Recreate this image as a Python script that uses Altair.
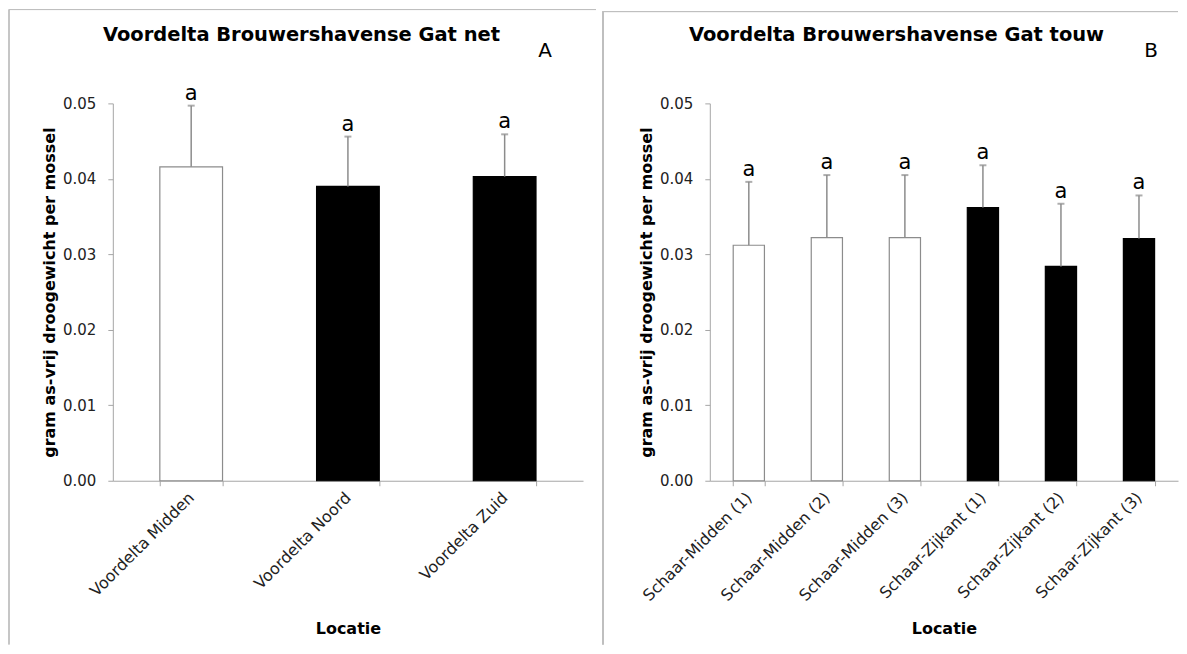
import altair as alt
import pandas as pd

# ---- data ----
cats_a = ["Voordelta Midden", "Voordelta Noord", "Voordelta Zuid"]
mean_a = [0.0416, 0.0390, 0.0403]
upper_a = [0.0497, 0.0456, 0.0459]
group_a = ["open", "filled", "filled"]
letters_a = ["a", "a", "a"]

cats_b = ["Schaar-Midden (1)", "Schaar-Midden (2)", "Schaar-Midden (3)",
          "Schaar-Zijkant (1)", "Schaar-Zijkant (2)", "Schaar-Zijkant (3)"]
mean_b = [0.0312, 0.0322, 0.0322, 0.0362, 0.0284, 0.0321]
upper_b = [0.0396, 0.0405, 0.0405, 0.0418, 0.0367, 0.0378]
group_b = ["open", "open", "open", "filled", "filled", "filled"]
letters_b = ["a", "a", "a", "a", "a", "a"]

title_a = "Voordelta Brouwershavense Gat net"
title_b = "Voordelta Brouwershavense Gat touw"
panel_a = "A"
panel_b = "B"
y_title = "gram as-vrij droogewicht per mossel"
x_title = "Locatie"
y_ticks = [0.0, 0.01, 0.02, 0.03, 0.04, 0.05]

FONT = "DejaVu Sans"
AXIS_GRAY = "#a6a6a6"
ERR_GRAY = "#8c8c8c"


def panel(cats, mean, upper, group, letters, title, letter, width, height,
          frame_left, frame_top, frame_right, title_x, letter_x, xtitle_pad):
    df = pd.DataFrame({"cat": cats, "mean": mean, "upper": upper,
                       "group": group, "sig": letters})
    x = alt.X("cat:N", sort=cats, title=x_title,
              scale=alt.Scale(paddingInner=0.6, paddingOuter=0.3),
              axis=alt.Axis(labelAngle=-45, labelAlign="right", labelBaseline="middle",
                            labelPadding=9, labelFontSize=16, labelFont=FONT,
                            labelColor="#222222", tickBand="extent",
                            domainColor=AXIS_GRAY, tickColor=AXIS_GRAY, tickSize=5,
                            titleFont=FONT, titleFontSize=16, titleFontWeight="bold",
                            titleColor="black", titlePadding=xtitle_pad))
    y = alt.Y("mean:Q", title=y_title,
              scale=alt.Scale(domain=[0, 0.05], nice=False),
              axis=alt.Axis(values=y_ticks, format=".2f", grid=False,
                            domainColor=AXIS_GRAY, tickColor=AXIS_GRAY, tickSize=5,
                            labelFontSize=15, labelFont=FONT, labelColor="#222222",
                            labelPadding=12, titleFont=FONT, titleFontSize=16,
                            titleFontWeight="bold", titleColor="black",
                            titlePadding=5))
    base = alt.Chart(df)
    bars = base.mark_bar(strokeWidth=1.2).encode(
        x=x, y=y,
        fill=alt.Fill("group:N", scale=alt.Scale(domain=["open", "filled"],
                                                  range=["white", "black"]), legend=None),
        stroke=alt.Stroke("group:N", scale=alt.Scale(domain=["open", "filled"],
                                                      range=["#8c8c8c", "black"]), legend=None),
    )
    err = base.mark_rule(color=ERR_GRAY, strokeWidth=1.5).encode(
        x=alt.X("cat:N", sort=cats), y="mean:Q", y2="upper:Q")
    cap = base.mark_tick(color=ERR_GRAY, size=7, thickness=2, orient="horizontal").encode(
        x=alt.X("cat:N", sort=cats), y="upper:Q")
    sig = base.mark_text(fontSize=21, font=FONT, color="black", baseline="alphabetic", dy=-6).encode(
        x=alt.X("cat:N", sort=cats), y="upper:Q", text="sig:N")
    lab = alt.Chart(pd.DataFrame({"t": [letter]})).mark_text(
        fontSize=20, font=FONT, color="black", baseline="middle", align="center").encode(
        x=alt.value(letter_x), y=alt.value(-52), text="t:N")
    ttl = alt.Chart(pd.DataFrame({"t": [title]})).mark_text(
        fontSize=19.5, fontWeight="bold", font=FONT, color="black",
        baseline="middle", align="center").encode(
        x=alt.value(title_x), y=alt.value(-68), text="t:N")
    frame_l = base.mark_rule(color="#bfbfbf", strokeWidth=1).encode(
        x=alt.value(frame_left), y=alt.value(frame_top), y2=alt.value(542))
    frame_t = base.mark_rule(color="#bfbfbf", strokeWidth=1).encode(
        x=alt.value(frame_left), x2=alt.value(frame_right), y=alt.value(frame_top))
    return alt.layer(frame_l, frame_t, bars, err, cap, sig, lab, ttl).properties(
        width=width, height=height)


chart_a = panel(cats_a, mean_a, upper_a, group_a, letters_a, title_a, panel_a,
                471, 378, -104, -94, 484, 189, 433, 22)
chart_b = panel(cats_b, mean_b, upper_b, group_b, letters_b, title_b, panel_b,
                469, 378, -107, -92, 469, 187, 442, 17)

chart = alt.hconcat(chart_a, chart_b, spacing=127, bounds="flush").properties(
    padding=0, background="white"
).configure_view(stroke=None)

chart.save("out.html", embed_options={"renderer": "svg", "actions": False})
